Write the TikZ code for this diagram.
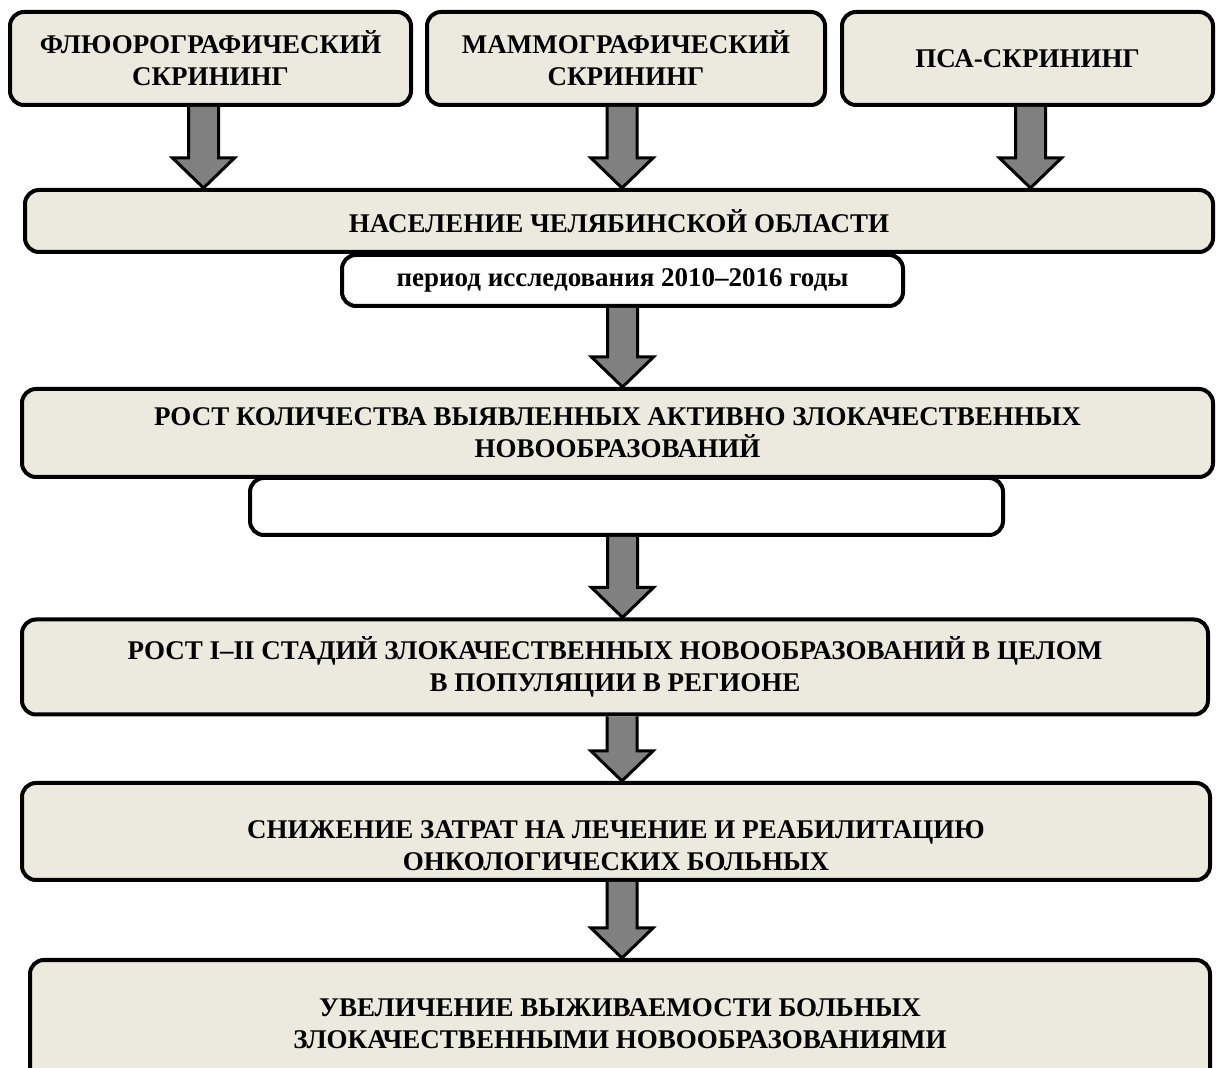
\documentclass[tikz,border=0pt]{standalone}
\usepackage{fontspec}
\setmainfont{Liberation Serif}
\usepackage{tikz}
\usetikzlibrary{calc}

\definecolor{boxfill}{RGB}{236,234,223}
\definecolor{arrowgray}{RGB}{128,128,128}

\tikzset{
	box/.style = {draw, line width=2pt, rounded corners=7pt, fill=boxfill, align=center, inner sep=0pt,
		font=\fontsize{13.5}{16}\selectfont\bfseries},
	whitebox/.style = {box, fill=white},
	boxtext/.style = {align=center, inner sep=0pt, font=\fontsize{13.5}{16}\selectfont\bfseries},
	fatarrow/.style = {draw, line width=1.5pt, fill=arrowgray, line join=miter}
}

% block arrow from the bottom of #2 down to the top of #3, shifted sideways by #1
\newcommand{\fatarrow}[3][0]{%
	\coordinate (top) at ($(#2.south)+(#1,0)$);
	\coordinate (tip) at (top |- #3.north);
	\draw[fatarrow] ($(top)+(-15,0)$) -- ($(tip)+(-15,30)$) -- ($(tip)+(-31,30)$) -- (tip)
		-- ($(tip)+(31,30)$) -- ($(tip)+(15,30)$) -- ($(top)+(15,0)$);
}

\begin{document}
\begin{tikzpicture}[x=0.5pt, y=0.5pt]
	\useasboundingbox[fill=white] (0,0) rectangle (1216,-1068);
	\node[box, minimum width=200.5pt, minimum height=46.5pt] (fluoro) at (210.5,-58.5) {ФЛЮОРОГРАФИЧЕСКИЙ\\СКРИНИНГ};
	\node[box, minimum width=199pt, minimum height=46.5pt] (mammo) at (626,-58.5) {МАММОГРАФИЧЕСКИЙ\\СКРИНИНГ};
	\node[box, minimum width=185.5pt, minimum height=46.5pt] (psa) at (1027.5,-58.5) {ПСА-СКРИНИНГ};
	\node[box, minimum width=594pt, minimum height=31pt] (population) at (619,-221) {НАСЕЛЕНИЕ ЧЕЛЯБИНСКОЙ ОБЛАСТИ};
	\node[whitebox, minimum width=280.5pt, minimum height=25.5pt] (period) at (622.5,-280.5) {период исследования 2010–2016 годы};
	\node[box, minimum width=595.5pt, minimum height=44pt] (growth) at (617.5,-433) {РОСТ КОЛИЧЕСТВА ВЫЯВЛЕННЫХ АКТИВНО ЗЛОКАЧЕСТВЕННЫХ\\НОВООБРАЗОВАНИЙ};
	\node[whitebox, minimum width=376.5pt, minimum height=28.5pt] (blank) at (626.5,-506.5) {};
	\node[box, minimum width=593pt, minimum height=47.5pt] (stages) at (615,-667) {РОСТ I–II СТАДИЙ ЗЛОКАЧЕСТВЕННЫХ НОВООБРАЗОВАНИЙ В ЦЕЛОМ\\В ПОПУЛЯЦИИ В РЕГИОНЕ};
	\node[box, minimum width=594pt, minimum height=48.5pt] (costs) at (616,-831.5) {};
	\node[boxtext] (coststext) at ($(costs.center)+(0,-14)$) {СНИЖЕНИЕ ЗАТРАТ НА ЛЕЧЕНИЕ И РЕАБИЛИТАЦИЮ\\ОНКОЛОГИЧЕСКИХ БОЛЬНЫХ};
	\node[box, minimum width=590pt, minimum height=64pt] (survival) at (620,-1024) {УВЕЛИЧЕНИЕ ВЫЖИВАЕМОСТИ БОЛЬНЫХ\\ЗЛОКАЧЕСТВЕННЫМИ НОВООБРАЗОВАНИЯМИ};

	\fatarrow[-7]{fluoro}{population}
	\fatarrow[-4]{mammo}{population}
	\fatarrow[3]{psa}{population}
	\fatarrow{period}{growth}
	\fatarrow[-4]{blank}{stages}
	\fatarrow[7]{stages}{costs}
	\fatarrow[6]{costs}{survival}
\end{tikzpicture}
\end{document}
